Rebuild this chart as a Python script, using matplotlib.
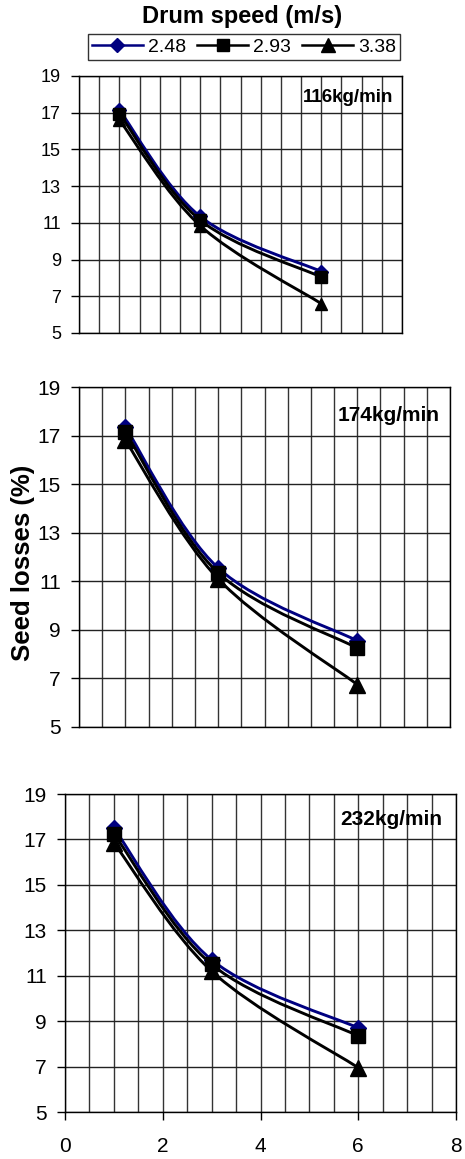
import numpy as np
import matplotlib
matplotlib.use('Agg')
import matplotlib.pyplot as plt
from matplotlib.path import Path
from matplotlib.patches import PathPatch
from matplotlib.lines import Line2D

plt.rcParams['font.family'] = ['Liberation Sans', 'DejaVu Sans']

# data
x_vals = [1, 3, 6]
speeds = ['2.48', '2.93', '3.38']
feed_rates = ['116kg/min', '174kg/min', '232kg/min']
loss_116 = [[17.15, 11.35, 8.35], [16.95, 11.15, 8.05], [16.6, 10.85, 6.6]]
loss_174 = [[17.35, 11.55, 8.55], [17.15, 11.35, 8.25], [16.8, 11.1, 6.75]]
loss_232 = [[17.5, 11.7, 8.7], [17.25, 11.5, 8.35], [16.85, 11.2, 6.95]]

colors = ['#000080', 'black', 'black']
markers = ['D', 's', '^']
msizes = [8.5, 9.5, 11]

W, H = 465, 1159
fig = plt.figure(figsize=(W / 100, H / 100), dpi=100)


def box(l, r, t, b):
	return [l / W, 1 - b / H, (r - l) / W, (b - t) / H]


def smooth_path(xs, ys):
	# excel-style smoothed line: cubic bezier, catmull-rom control points
	pts = np.column_stack([xs, ys]).astype(float)
	n = len(pts)
	verts = [pts[0]]
	codes = [Path.MOVETO]
	for i in range(n - 1):
		p_prev = pts[max(i - 1, 0)]
		p0, p1 = pts[i], pts[i + 1]
		p_next = pts[min(i + 2, n - 1)]
		c1 = p0 + (p1 - p_prev) / 6.0
		c2 = p1 - (p_next - p0) / 6.0
		verts += [c1, c2, p1]
		codes += [Path.CURVE4] * 3
	return Path(verts, codes)


def draw_panel(rect, data, label, fs, lab_fs, lab_xy, scale=1.0, bottom=False):
	ax = fig.add_axes(rect)
	for i in range(3):
		ax.add_patch(PathPatch(smooth_path(x_vals, data[i]), fill=False, edgecolor=colors[i], lw=2.1, zorder=3))
		ax.plot(x_vals, data[i], linestyle='none', marker=markers[i], ms=msizes[i] * scale, color=colors[i], zorder=4)
	ax.set_xlim(0, 8)
	ax.set_ylim(5, 19)
	ax.set_yticks(np.arange(5, 20, 2))
	ax.set_xticks(np.arange(0, 8.01, 0.5), minor=True)
	ax.set_xticks(np.arange(0, 8.01, 2))
	ax.grid(True, which='both', axis='x', color='#333333', lw=1)
	ax.grid(True, which='major', axis='y', color='#222222', lw=1)
	ax.set_axisbelow(True)
	ax.tick_params(axis='y', labelsize=fs, length=6, width=1, direction='out', pad=7)
	ax.tick_params(axis='x', which='minor', length=0)
	if bottom:
		ax.tick_params(axis='x', which='major', labelsize=fs, length=6, width=1, pad=12)
	else:
		ax.tick_params(axis='x', which='major', length=0, labelbottom=False)
	for sp in ax.spines.values():
		sp.set_color('black')
		sp.set_linewidth(1)
	ax.text(lab_xy[0], lab_xy[1], label, transform=ax.transAxes, fontsize=lab_fs,
			fontweight='bold', ha='center', va='center', zorder=5)
	return ax


draw_panel(box(79, 402, 76, 333), loss_116, feed_rates[0], 13, 13.5, (0.833, 0.915), scale=0.85)
draw_panel(box(79, 450, 387, 727), loss_174, feed_rates[1], 15, 15, (0.835, 0.915))
draw_panel(box(65, 456, 794, 1112), loss_232, feed_rates[2], 15, 15, (0.834, 0.92), bottom=True)

fig.text(242 / W, 1 - 16 / H, 'Drum speed (m/s)', fontsize=17, fontweight='bold', ha='center', va='center')
fig.text(23 / W, 1 - 563 / H, 'Seed losses (%)', fontsize=18.5, fontweight='bold', rotation=90, ha='center', va='center')

handles = [Line2D([0], [0], color=colors[i], marker=markers[i], ms=msizes[i] - 1.5, lw=1.8) for i in range(3)]
leg = fig.legend(handles, speeds, loc='center', bbox_to_anchor=(244 / W, 1 - 47 / H), ncol=3,
				 fontsize=14, frameon=True, fancybox=False, edgecolor='black', handlelength=2.6,
				 handletextpad=0.25, columnspacing=0.6, borderpad=0.2, borderaxespad=0)
leg.get_frame().set_linewidth(1)

fig.savefig('out.png', dpi=100)
